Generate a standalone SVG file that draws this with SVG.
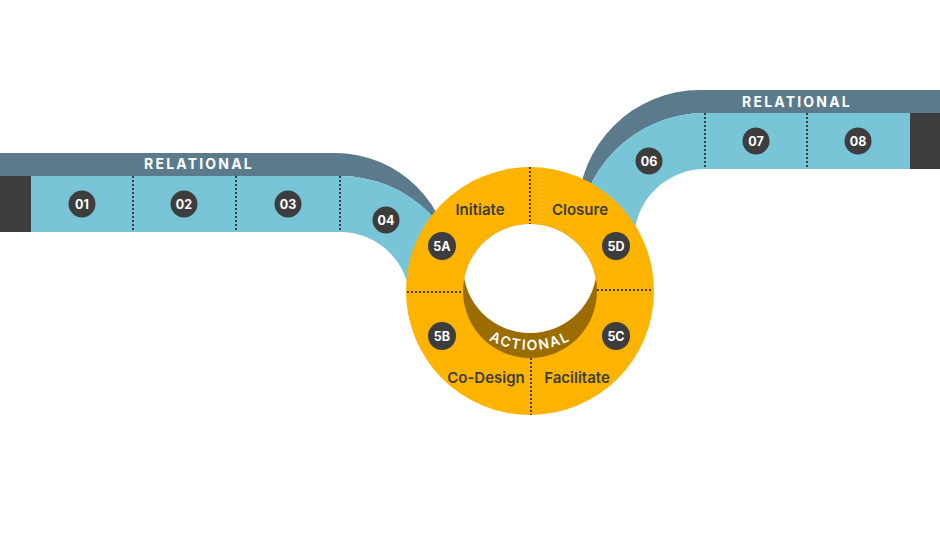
<svg xmlns="http://www.w3.org/2000/svg" width="940" height="540" viewBox="0 0 940 540">
<style>
.slate{fill:#5b7a8b}
.light{fill:#78c5d7}
.block{fill:#3d3d3d}
.div{stroke:#3d3d3d;stroke-width:2;stroke-dasharray:2 2;fill:none}
.badge circle{fill:#3d3d3d}
.badge text{fill:#ffffff;font-family:Inter,"Liberation Sans",sans-serif;font-weight:700;font-size:12.5px;text-anchor:middle}
.lbl{fill:#3d3d3d;font-family:Inter,"Liberation Sans",sans-serif;font-weight:600;font-size:15px;text-anchor:middle}
.band{fill:#ffffff;font-family:Inter,"Liberation Sans",sans-serif;font-weight:700;font-size:14px;letter-spacing:2.2px;text-anchor:middle}
</style>
<defs>
<clipPath id="holeClip"><circle cx="530" cy="291" r="67"/></clipPath>
<path id="actArc" d="M442,262 A88,88 0 0 0 618,262"/>
</defs>
<rect width="940" height="540" fill="#ffffff"/>

<g id="left-band">
<path class="slate" d="M0,153 H335 A116,116 0 0 1 451,269 L466,302 A126,126 0 0 0 340,176 H0 Z"/>
<path class="light" d="M0,176 H340 A126,126 0 0 1 466,302 H410 A70,70 0 0 0 340,232 H0 Z"/>
<rect class="block" x="0" y="176" width="31" height="56"/>
<text class="band" x="199" y="169">RELATIONAL</text>
</g>

<g id="right-band">
<path class="slate" d="M940,90 H700 A122,122 0 0 0 578,211 L578,240 A127,127 0 0 1 705,113 H940 Z"/>
<path class="light" d="M940,113 H705 A127,127 0 0 0 578,240 H634 A71,71 0 0 1 705,169 H940 Z"/>
<rect class="block" x="910" y="113" width="30" height="56"/>
<text class="band" x="797" y="107">RELATIONAL</text>
</g>

<g id="donut">
<circle cx="530" cy="291" r="124" fill="#fdb400"/>
<circle cx="530" cy="291" r="67" fill="#9b6d00"/>
<circle cx="530" cy="266" r="67" fill="#ffffff" clip-path="url(#holeClip)"/>
<text fill="#ffffff" font-family="Inter,'Liberation Sans',sans-serif" font-weight="600" font-size="14" letter-spacing="1.6"><textPath href="#actArc" startOffset="50%" text-anchor="middle">ACTIONAL</textPath></text>
</g>

<g id="connectors">
<line class="div" x1="133" y1="176" x2="133" y2="232"/>
<line class="div" x1="236" y1="176" x2="236" y2="232"/>
<line class="div" x1="340" y1="176" x2="340" y2="232"/>
<line class="div" x1="705" y1="113" x2="705" y2="169"/>
<line class="div" x1="807" y1="113" x2="807" y2="169"/>
<line class="div" x1="530" y1="167" x2="530" y2="224"/>
<line class="div" x1="531" y1="358" x2="531" y2="415"/>
<line class="div" x1="407" y1="292" x2="463" y2="292"/>
<line class="div" x1="597" y1="290" x2="653" y2="290"/>
</g>

<g id="n01" class="badge"><circle cx="82" cy="204" r="13.5"/><text x="82" y="208.5">01</text></g>
<g id="n02" class="badge"><circle cx="184" cy="204" r="13.5"/><text x="184" y="208.5">02</text></g>
<g id="n03" class="badge"><circle cx="288" cy="204" r="13.5"/><text x="288" y="208.5">03</text></g>
<g id="n04" class="badge"><circle cx="386" cy="220" r="13.5"/><text x="386" y="224.5">04</text></g>
<g id="n06" class="badge"><circle cx="649" cy="161" r="13.5"/><text x="649" y="165.5">06</text></g>
<g id="n07" class="badge"><circle cx="756" cy="141" r="13.5"/><text x="756" y="145.5">07</text></g>
<g id="n08" class="badge"><circle cx="858" cy="141" r="13.5"/><text x="858" y="145.5">08</text></g>

<g id="n5A"><g class="badge"><circle cx="442" cy="246" r="14"/><text x="442" y="250.5">5A</text></g><text class="lbl" x="480" y="215">Initiate</text></g>
<g id="n5D"><g class="badge"><circle cx="616" cy="246" r="14"/><text x="616" y="250.5">5D</text></g><text class="lbl" x="580" y="215">Closure</text></g>
<g id="n5B"><g class="badge"><circle cx="442" cy="336" r="14"/><text x="442" y="340.5">5B</text></g><text class="lbl" x="486" y="383">Co-Design</text></g>
<g id="n5C"><g class="badge"><circle cx="616" cy="336" r="14"/><text x="616" y="340.5">5C</text></g><text class="lbl" x="577" y="383">Facilitate</text></g>
</svg>
